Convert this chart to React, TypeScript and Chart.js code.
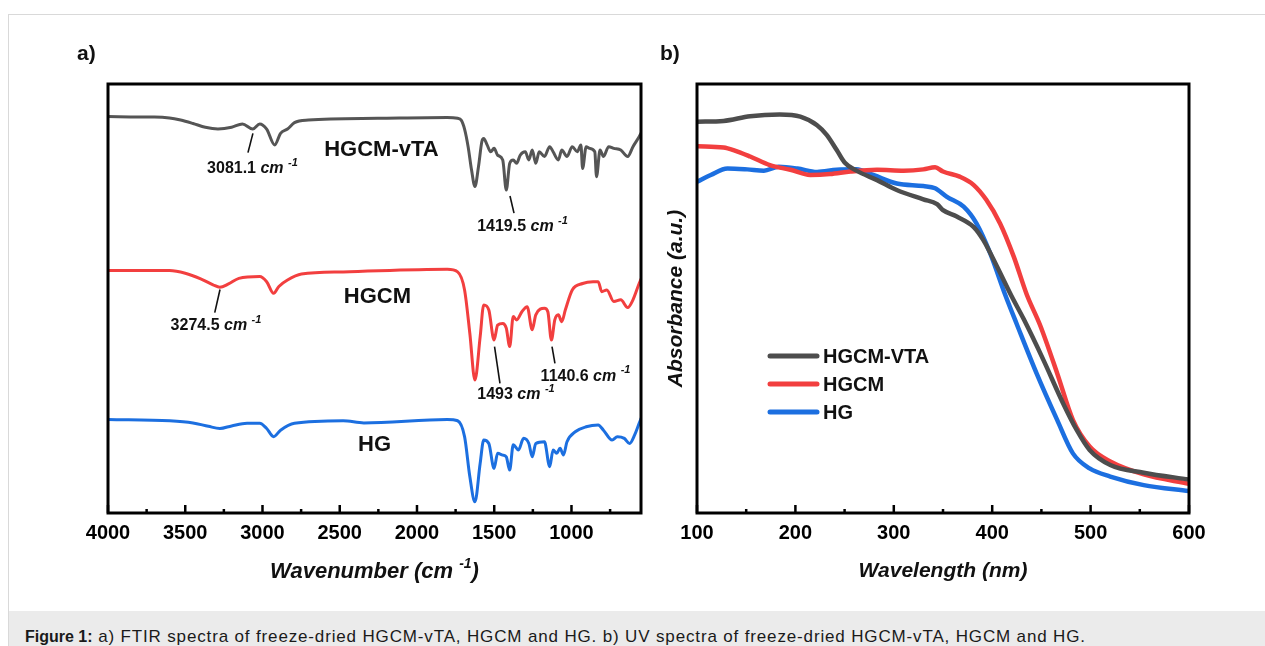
import React, { useEffect, useRef } from "react";
import { Chart, registerables } from "chart.js";

Chart.register(...registerables);

const FONT = "'Liberation Sans', Arial, Helvetica, sans-serif";

// ---------------- FTIR (panel a) ----------------
const FTIR_NAMES = ["HGCM-vTA", "HGCM", "HG"];
const FTIR_TICKS = [4000, 3500, 3000, 2500, 2000, 1500, 1000];
const FTIR_MINOR = [3750, 3250, 2750, 2250, 1750, 1250, 750];

const FTIR_VTA_WN = [4000, 3800, 3700, 3602, 3530, 3450, 3370, 3288, 3200, 3130, 3063, 3018, 2973, 2921, 2883, 2838, 2793, 2703, 2254, 1804, 1737, 1714, 1692, 1669, 1647, 1625, 1602, 1580, 1568, 1546, 1523, 1501, 1478, 1445, 1422, 1400, 1377, 1355, 1332, 1299, 1276, 1254, 1231, 1209, 1175, 1141, 1119, 1085, 1063, 1029, 995, 962, 939, 928, 905, 883, 849, 838, 815, 793, 759, 726, 681, 636, 602, 562, 550];
const FTIR_VTA_T = [92.4, 92.3, 92.3, 92.1, 91.6, 90.8, 89.9, 89.5, 89.9, 90.7, 89.5, 90.7, 89.5, 85.8, 88.5, 89.5, 91.0, 91.6, 92.0, 92.2, 92.0, 91.6, 89.5, 85.4, 80.0, 76.1, 80.7, 86.6, 87.3, 85.8, 84.2, 85.0, 83.4, 82.3, 75.3, 81.5, 82.3, 81.5, 83.4, 84.2, 82.3, 84.6, 81.5, 84.2, 83.1, 85.4, 84.2, 82.3, 84.6, 83.1, 85.4, 84.2, 85.8, 80.3, 85.4, 85.0, 84.2, 78.4, 84.6, 83.1, 85.4, 85.0, 84.6, 83.1, 85.4, 87.7, 88.5];

const FTIR_HGCM_WN = [4000, 3602, 3500, 3400, 3320, 3276, 3220, 3153, 3018, 2973, 2928, 2894, 2838, 2748, 2478, 1804, 1737, 1692, 1658, 1625, 1591, 1568, 1535, 1501, 1478, 1445, 1422, 1400, 1377, 1355, 1321, 1287, 1254, 1231, 1175, 1153, 1130, 1108, 1085, 1063, 1040, 995, 928, 860, 827, 804, 771, 726, 681, 636, 602, 562, 550];
const FTIR_HGCM_T = [56.5, 56.5, 55.9, 54.6, 53.2, 52.6, 53.4, 54.7, 55.1, 53.9, 51.2, 52.8, 54.3, 55.7, 56.2, 56.8, 56.2, 52.0, 41.9, 31.0, 41.1, 48.5, 47.3, 40.3, 43.8, 44.2, 43.1, 38.8, 45.8, 45.0, 46.9, 48.1, 42.7, 46.2, 47.7, 46.9, 40.3, 45.0, 46.2, 44.6, 47.3, 52.0, 53.5, 53.9, 53.9, 51.6, 52.0, 49.3, 49.7, 47.9, 49.7, 53.5, 54.5];

const FTIR_HG_WN = [4000, 3600, 3450, 3350, 3276, 3200, 3100, 3018, 2973, 2928, 2883, 2793, 2478, 2344, 1804, 1737, 1692, 1658, 1625, 1591, 1568, 1535, 1501, 1478, 1445, 1422, 1400, 1377, 1343, 1310, 1276, 1254, 1231, 1175, 1141, 1119, 1096, 1074, 1052, 1029, 973, 905, 827, 793, 737, 703, 658, 624, 591, 562, 550];
const FTIR_HG_T = [21.8, 21.5, 21.0, 20.2, 19.7, 20.3, 20.9, 20.9, 19.7, 17.8, 19.3, 20.9, 21.5, 21.0, 21.8, 21.5, 17.8, 8.5, 2.6, 11.6, 17.0, 16.2, 10.4, 13.9, 13.5, 13.1, 10.0, 15.9, 14.7, 17.4, 16.2, 13.1, 16.2, 16.6, 10.8, 14.7, 13.9, 15.1, 13.5, 16.6, 19.0, 20.1, 20.5, 19.3, 17.0, 17.8, 17.4, 16.2, 18.2, 20.9, 22.0];

// series name labels placed inside the plot (data coordinates: wavenumber, value)
const FTIR_NAME_WN = [2230, 2256, 2275];
const FTIR_NAME_T = [84.6, 50.4, 15.9];

// peak annotations
const PEAK_TEXT = ["3081.1", "1419.5", "3274.5", "1493", "1140.6"];
const PEAK_LABEL_WN = [3065, 1317, 3301, 1359, 909];
const PEAK_LABEL_T = [80.3, 66.7, 43.6, 27.5, 31.9];
const PEAK_LINE_WN1 = [3062, 1398, 3275, 1498, 1126];
const PEAK_LINE_T1 = [88.5, 73.9, 52.1, 38.8, 38.8];
const PEAK_LINE_WN2 = [3094, 1372, 3309, 1463, 1107];
const PEAK_LINE_T2 = [84.0, 69.9, 46.7, 30.2, 34.9];

// ---------------- UV (panel b) ----------------
const UV_NAMES = ["HGCM-VTA", "HGCM", "HG"];
const UV_TICKS = [100, 200, 300, 400, 500, 600];
const UV_MINOR = [150, 250, 350, 450, 550];

const UV_VTA_NM = [100, 127, 154, 184, 205, 222, 232, 242, 250, 262, 283, 303, 330, 344, 350, 364, 381, 391, 405, 420, 432, 452, 472, 486, 499, 520, 554, 600];
const UV_VTA_A = [0.912, 0.914, 0.925, 0.929, 0.924, 0.904, 0.881, 0.846, 0.817, 0.798, 0.776, 0.753, 0.731, 0.72, 0.706, 0.691, 0.667, 0.636, 0.574, 0.504, 0.452, 0.357, 0.256, 0.193, 0.147, 0.112, 0.094, 0.078];

const UV_HGCM_NM = [100, 127, 137, 154, 174, 195, 215, 235, 256, 283, 310, 330, 342, 350, 367, 381, 394, 408, 422, 435, 449, 466, 482, 499, 520, 554, 600];
const UV_HGCM_A = [0.855, 0.852, 0.846, 0.831, 0.811, 0.8, 0.788, 0.79, 0.796, 0.8, 0.798, 0.801, 0.806, 0.796, 0.784, 0.765, 0.73, 0.675, 0.597, 0.51, 0.436, 0.326, 0.217, 0.155, 0.12, 0.09, 0.068];

const UV_HG_NM = [100, 114, 131, 151, 168, 183, 202, 222, 242, 262, 279, 303, 330, 342, 354, 371, 384, 398, 413, 425, 445, 466, 482, 499, 520, 554, 600];
const UV_HG_A = [0.772, 0.788, 0.803, 0.801, 0.798, 0.807, 0.803, 0.795, 0.8, 0.801, 0.788, 0.768, 0.762, 0.757, 0.737, 0.714, 0.675, 0.605, 0.51, 0.44, 0.326, 0.217, 0.139, 0.104, 0.085, 0.065, 0.051];

const BLACK = "#555555";
const BLACK_UV = "#4d4d4d";
const RED = "#f23f3f";
const BLUE = "#1c6fe0";

const zip = (xs: number[], ys: number[]) => xs.map((x, i) => ({ x, y: ys[i] }));

type Seg = { t: string; italic?: boolean; sup?: boolean };

function drawRich(ctx: CanvasRenderingContext2D, segs: Seg[], cx: number, cy: number, size: number, supSize: number, supRise: number) {
  const fontFor = (s: Seg) => `${s.italic || s.sup ? "italic " : ""}bold ${s.sup ? supSize : size}px ${FONT}`;
  let total = 0;
  const widths = segs.map((s) => {
    ctx.font = fontFor(s);
    const w = ctx.measureText(s.t).width;
    total += w;
    return w;
  });
  let x = cx - total / 2;
  ctx.textAlign = "left";
  ctx.textBaseline = "middle";
  segs.forEach((s, i) => {
    ctx.font = fontFor(s);
    ctx.fillText(s.t, x, cy - (s.sup ? supRise : 0));
    x += widths[i];
  });
}

function makeFrame(major: number[], minor: number[]) {
  return {
    id: "frame",
    afterDatasetsDraw(chart: any) {
      const { ctx, chartArea } = chart;
      const { left, right, top, bottom } = chartArea;
      const xs = chart.scales.x;
      ctx.save();
      ctx.strokeStyle = "#000";
      ctx.lineWidth = 2.5;
      ctx.beginPath();
      major.forEach((v) => {
        const p = xs.getPixelForValue(v);
        ctx.moveTo(p, bottom);
        ctx.lineTo(p, bottom - 8);
      });
      minor.forEach((v) => {
        const p = xs.getPixelForValue(v);
        ctx.moveTo(p, bottom);
        ctx.lineTo(p, bottom - 4);
      });
      ctx.stroke();
      ctx.lineWidth = 3;
      ctx.strokeRect(left, top, right - left, bottom - top);
      ctx.restore();
    },
  };
}

const ftirAnnotations = {
  id: "ftirAnnotations",
  afterDatasetsDraw(chart: any) {
    const { ctx, chartArea } = chart;
    const xs = chart.scales.x;
    const ys = chart.scales.y;
    ctx.save();
    ctx.fillStyle = "#111";
    FTIR_NAMES.forEach((n, i) => {
      drawRich(ctx, [{ t: n }], xs.getPixelForValue(FTIR_NAME_WN[i]), ys.getPixelForValue(FTIR_NAME_T[i]), 22, 14, 8);
    });
    ctx.strokeStyle = "#111";
    ctx.lineWidth = 1.6;
    PEAK_TEXT.forEach((t, i) => {
      ctx.beginPath();
      ctx.moveTo(xs.getPixelForValue(PEAK_LINE_WN1[i]), ys.getPixelForValue(PEAK_LINE_T1[i]));
      ctx.lineTo(xs.getPixelForValue(PEAK_LINE_WN2[i]), ys.getPixelForValue(PEAK_LINE_T2[i]));
      ctx.stroke();
      drawRich(
        ctx,
        [{ t: t + " " }, { t: "cm ", italic: true }, { t: "-1", sup: true }],
        xs.getPixelForValue(PEAK_LABEL_WN[i]),
        ys.getPixelForValue(PEAK_LABEL_T[i]),
        16,
        11,
        6
      );
    });
    // axis title with superscript
    drawRich(
      ctx,
      [{ t: "Wavenumber (cm ", italic: true }, { t: "-1", sup: true }, { t: ")", italic: true }],
      (chartArea.left + chartArea.right) / 2,
      chartArea.bottom + 59,
      22,
      14,
      8
    );
    ctx.restore();
  },
};

const uvLegend = {
  id: "uvLegend",
  afterDatasetsDraw(chart: any) {
    const { ctx, chartArea } = chart;
    ctx.save();
    chart.data.datasets.forEach((ds: any, i: number) => {
      const y = chartArea.top + 272 + i * 28;
      ctx.strokeStyle = ds.borderColor;
      ctx.lineWidth = 5;
      ctx.lineCap = "round";
      ctx.beginPath();
      ctx.moveTo(chartArea.left + 73, y);
      ctx.lineTo(chartArea.left + 120, y);
      ctx.stroke();
      ctx.fillStyle = "#111";
      ctx.font = `bold 20px ${FONT}`;
      ctx.textAlign = "left";
      ctx.textBaseline = "middle";
      ctx.fillText(ds.label, chartArea.left + 126, y + 1);
    });
    ctx.restore();
  },
};

const tickFont = { family: FONT, size: 20, weight: "bold" as const };
const titleFont = { family: FONT, size: 21, weight: "bold" as const, style: "italic" as const };

function FtirChart() {
  const ref = useRef<HTMLCanvasElement | null>(null);
  useEffect(() => {
    if (!ref.current) return;
    const lineDs = (label: string, xs: number[], ys: number[], color: string) => ({
      label,
      data: zip(xs, ys),
      borderColor: color,
      backgroundColor: color,
      borderWidth: 3,
      pointRadius: 0,
      cubicInterpolationMode: "monotone" as const,
      borderJoinStyle: "round" as const,
      borderCapStyle: "round" as const,
    });
    const chart = new Chart(ref.current, {
      type: "line",
      data: {
        datasets: [
          lineDs(FTIR_NAMES[0], FTIR_VTA_WN, FTIR_VTA_T, BLACK),
          lineDs(FTIR_NAMES[1], FTIR_HGCM_WN, FTIR_HGCM_T, RED),
          lineDs(FTIR_NAMES[2], FTIR_HG_WN, FTIR_HG_T, BLUE),
        ],
      },
      options: {
        animation: false,
        responsive: false,
        layout: { padding: { left: 108, right: 19, top: 84, bottom: 0 } },
        plugins: { legend: { display: false }, tooltip: { enabled: false } },
        scales: {
          x: {
            type: "linear",
            reverse: true,
            min: 550,
            max: 4000,
            afterBuildTicks: (s: any) => {
              s.ticks = FTIR_TICKS.map((v) => ({ value: v }));
            },
            afterFit: (s: any) => {
              s.height = 87;
            },
            grid: { display: false, drawTicks: false },
            border: { display: false },
            ticks: { padding: 8, color: "#000", font: tickFont, maxRotation: 0, autoSkip: false, callback: (v: any) => String(v) },
          },
          y: { display: false, min: 0, max: 100 },
        },
      },
      plugins: [makeFrame(FTIR_TICKS, FTIR_MINOR), ftirAnnotations],
    });
    return () => chart.destroy();
  }, []);
  return <canvas ref={ref} width={660} height={600} style={{ position: "absolute", left: 0, top: 0, width: 660, height: 600 }} />;
}

function UvChart() {
  const ref = useRef<HTMLCanvasElement | null>(null);
  useEffect(() => {
    if (!ref.current) return;
    const lineDs = (label: string, xs: number[], ys: number[], color: string) => ({
      label,
      data: zip(xs, ys),
      borderColor: color,
      backgroundColor: color,
      borderWidth: 4.5,
      pointRadius: 0,
      cubicInterpolationMode: "monotone" as const,
      borderJoinStyle: "round" as const,
      borderCapStyle: "round" as const,
    });
    const chart = new Chart(ref.current, {
      type: "line",
      data: {
        datasets: [
          lineDs(UV_NAMES[0], UV_VTA_NM, UV_VTA_A, BLACK_UV),
          lineDs(UV_NAMES[1], UV_HGCM_NM, UV_HGCM_A, RED),
          lineDs(UV_NAMES[2], UV_HG_NM, UV_HG_A, BLUE),
        ],
      },
      options: {
        animation: false,
        responsive: false,
        layout: { padding: { left: 0, right: 76, top: 84, bottom: 0 } },
        plugins: { legend: { display: false }, tooltip: { enabled: false } },
        scales: {
          x: {
            type: "linear",
            min: 100,
            max: 600,
            afterBuildTicks: (s: any) => {
              s.ticks = UV_TICKS.map((v) => ({ value: v }));
            },
            afterFit: (s: any) => {
              s.height = 87;
            },
            grid: { display: false, drawTicks: false },
            border: { display: false },
            ticks: { padding: 8, color: "#000", font: tickFont, maxRotation: 0, autoSkip: false, callback: (v: any) => String(v) },
            title: { display: true, text: "Wavelength (nm)", color: "#111", font: titleFont, padding: { top: 0, bottom: 15.7 } },
          },
          y: {
            min: 0,
            max: 1,
            afterFit: (s: any) => {
              s.width = 37;
            },
            grid: { display: false, drawTicks: false },
            border: { display: false },
            ticks: { display: false },
            title: { display: true, text: "Absorbance (a.u.)", color: "#111", font: titleFont, padding: { top: 3.4, bottom: 0 } },
          },
        },
      },
      plugins: [makeFrame(UV_TICKS, UV_MINOR), uvLegend],
    });
    return () => chart.destroy();
  }, []);
  return <canvas ref={ref} width={605} height={600} style={{ position: "absolute", left: 660, top: 0, width: 605, height: 600 }} />;
}

export default function App() {
  return (
    <div style={{ position: "fixed", left: 0, top: 0, width: 1265, height: 646, overflow: "hidden", background: "#fff", fontFamily: FONT }}>
      <div style={{ position: "absolute", left: 8, top: 14, right: -2, bottom: -2, borderTop: "1px solid #d9d9d9", borderLeft: "1px solid #d9d9d9" }} />
      <div style={{ position: "absolute", left: 9, top: 611, right: 0, bottom: 0, background: "#ebebeb" }} />
      <FtirChart />
      <UvChart />
      <div style={{ position: "absolute", left: 77, top: 41, fontSize: 21, lineHeight: "24px", fontWeight: "bold", color: "#111" }}>a)</div>
      <div style={{ position: "absolute", left: 660, top: 41, fontSize: 21, lineHeight: "24px", fontWeight: "bold", color: "#111" }}>b)</div>
      <div style={{ position: "absolute", left: 25, top: 626, fontSize: 16, lineHeight: "22px", color: "#1a1a1a", whiteSpace: "nowrap" }}>
        <b>Figure 1:</b>
        <span style={{ fontSize: 17, letterSpacing: "0.85px" }}> a) FTIR spectra of freeze-dried HGCM-vTA, HGCM and HG. b) UV spectra of freeze-dried HGCM-vTA, HGCM and HG.</span>
      </div>
    </div>
  );
}
